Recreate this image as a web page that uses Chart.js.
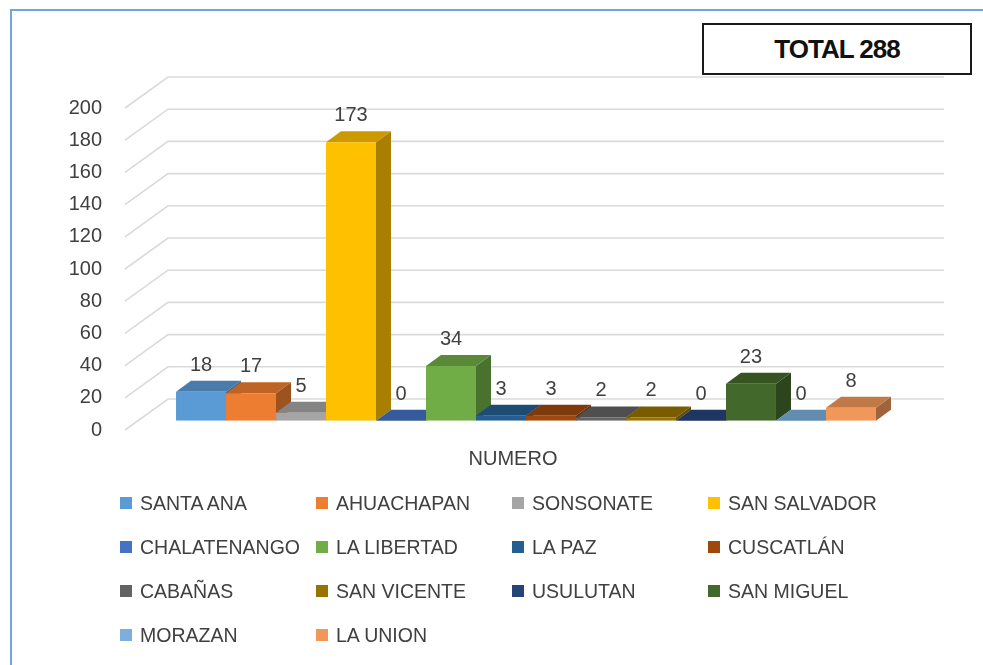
<!DOCTYPE html>
<html lang="es">
<head>
  <meta charset="UTF-8">
  <meta name="viewport" content="width=device-width, initial-scale=1.0">
  <script src="https://cdn.jsdelivr.net/npm/chart.js"></script>
  <title>TOTAL 288</title>
  <style>
    body{margin: 0; background: #fff; overflow: hidden; font-family: "Liberation Sans", Arial, sans-serif;}
    #wrap{position: relative; width: 983px; height: 665px;}
    #myChart{position: absolute; left: 0; top: 0;}
    #marco{position: absolute; left: 10px; top: 9px; width: 1000px; height: 700px; border-left: 2px solid #6fa6dc; border-top: 2px solid #6fa6dc;}
    #total{position: absolute; left: 702px; top: 23px; width: 266px; height: 48px; border: 2px solid #1a1a1a; background: #fff;
           text-align: center; line-height: 48px; font-weight: bold; font-size: 26px; letter-spacing: -1px; color: #111;}
    #leyenda{position: absolute; left: 120px; top: 481px; display: grid; grid-template-columns: repeat(4, 196px); grid-auto-rows: 44px;}
    .item{display: flex; align-items: center; font-size: 19.5px; color: #404040; white-space: nowrap;}
    .item span{display: inline-block; width: 12px; height: 12px; margin-right: 8px; flex: none;}
  </style>
</head>
<body>
  <div id="wrap">
    <div id="marco"></div>
    <canvas id="myChart" width="983" height="665"></canvas>
    <div id="total"></div>
    <div id="leyenda"></div>
  </div>

  <script>
    // datos del grafico
    const categorias = ["NUMERO"];
    const departamentos = ["SANTA ANA", "AHUACHAPAN", "SONSONATE", "SAN SALVADOR", "CHALATENANGO", "LA LIBERTAD", "LA PAZ",
                           "CUSCATLÁN", "CABAÑAS", "SAN VICENTE", "USULUTAN", "SAN MIGUEL", "MORAZAN", "LA UNION"];
    const valores = [18, 17, 5, 173, 0, 34, 3, 3, 2, 2, 0, 23, 0, 8];
    const colores = ["#5b9bd5", "#ed7d31", "#a5a5a5", "#ffc000", "#4472c4", "#70ad47", "#255e91",
                     "#9e480e", "#636363", "#997300", "#264478", "#43682b", "#7cafdd", "#f1975a"];
    const ejeMin = 0, ejeMax = 200, ejePaso = 20;

    // profundidad 3D (pixeles)
    const PARED_X = 43, PARED_Y = -31;   // pared del fondo
    const FRENTE_X = 13, FRENTE_Y = -9.3; // cara frontal de las barras
    const PROF_X = 15, PROF_Y = -11;      // grosor de la barra

    function shade(hex, f){
      const n = parseInt(hex.slice(1), 16);
      const r = Math.round(((n >> 16) & 255) * f);
      const g = Math.round(((n >> 8) & 255) * f);
      const b = Math.round((n & 255) * f);
      return "rgb(" + r + "," + g + "," + b + ")";
    }

    const efecto3d = {
      id: "efecto3d",
      beforeDatasetsDraw(chart){
        const {ctx, chartArea: a, scales: {y}} = chart;
        // rejilla: pared lateral (diagonal) y pared del fondo
        ctx.save();
        ctx.strokeStyle = "#dadada";
        ctx.lineWidth = 1.6;
        y.ticks.forEach(t => {
          const py = y.getPixelForValue(t.value);
          ctx.beginPath();
          ctx.moveTo(a.left, py);
          ctx.lineTo(a.left + PARED_X, py + PARED_Y);
          ctx.lineTo(a.right + PARED_X, py + PARED_Y);
          ctx.stroke();
        });
        ctx.restore();

        // las barras van un poco hacia dentro del piso
        ctx.save();
        ctx.translate(FRENTE_X, FRENTE_Y);
        chart.data.datasets.forEach((ds, i) => {
          const bar = chart.getDatasetMeta(i).data[0];
          const l = bar.x - bar.width / 2, r = bar.x + bar.width / 2;
          // lado derecho
          ctx.fillStyle = shade(ds.backgroundColor, 0.66);
          ctx.beginPath();
          ctx.moveTo(r, bar.y);
          ctx.lineTo(r + PROF_X, bar.y + PROF_Y);
          ctx.lineTo(r + PROF_X, bar.base + PROF_Y);
          ctx.lineTo(r, bar.base);
          ctx.closePath();
          ctx.fill();
          // tapa
          ctx.fillStyle = shade(ds.backgroundColor, 0.8);
          ctx.beginPath();
          ctx.moveTo(l, bar.y);
          ctx.lineTo(l + PROF_X, bar.y + PROF_Y);
          ctx.lineTo(r + PROF_X, bar.y + PROF_Y);
          ctx.lineTo(r, bar.y);
          ctx.closePath();
          ctx.fill();
        });
      },
      afterDatasetsDraw(chart){
        const ctx = chart.ctx;
        // etiquetas de valor
        ctx.fillStyle = "#404040";
        ctx.font = "20px 'Liberation Sans', Arial, sans-serif";
        ctx.textAlign = "center";
        ctx.textBaseline = "middle";
        chart.data.datasets.forEach((ds, i) => {
          const bar = chart.getDatasetMeta(i).data[0];
          ctx.fillText(String(ds.data[0]), bar.x, bar.y - 26.5);
        });
        ctx.restore();
      }
    };

    const ctx = document.getElementById("myChart");

    new Chart(ctx, {
      type: "bar",
      data: {
        labels: categorias,
        datasets: departamentos.map((d, i) => ({
          label: d,
          data: [valores[i]],
          backgroundColor: colores[i],
          borderWidth: 0,
          barPercentage: 1,
          categoryPercentage: 0.902
        }))
      },
      options: {
        responsive: false,
        animation: false,
        layout: {padding: {top: 108, right: 82, bottom: 0, left: 0}},
        plugins: {legend: {display: false}, tooltip: {enabled: false}},
        scales: {
          x: {
            grid: {display: false, drawTicks: false},
            border: {display: false},
            ticks: {color: "#404040", padding: 17, font: {size: 20, family: "'Liberation Sans', Arial, sans-serif"}},
            afterFit(scale){ scale.height = 235; }
          },
          y: {
            min: ejeMin,
            max: ejeMax,
            grid: {display: false, drawTicks: false},
            border: {display: false},
            ticks: {stepSize: ejePaso, color: "#404040", padding: 23, font: {size: 20, family: "'Liberation Sans', Arial, sans-serif"}},
            afterFit(scale){ scale.width = 125; }
          }
        }
      },
      plugins: [efecto3d]
    });

    // total y leyenda
    document.getElementById("total").textContent = "TOTAL " + valores.reduce((s, v) => s + v, 0);
    const ley = document.getElementById("leyenda");
    departamentos.forEach((d, i) => {
      const it = document.createElement("div");
      it.className = "item";
      const sw = document.createElement("span");
      sw.style.background = colores[i];
      it.appendChild(sw);
      it.appendChild(document.createTextNode(d));
      ley.appendChild(it);
    });
  </script>
</body>
</html>
